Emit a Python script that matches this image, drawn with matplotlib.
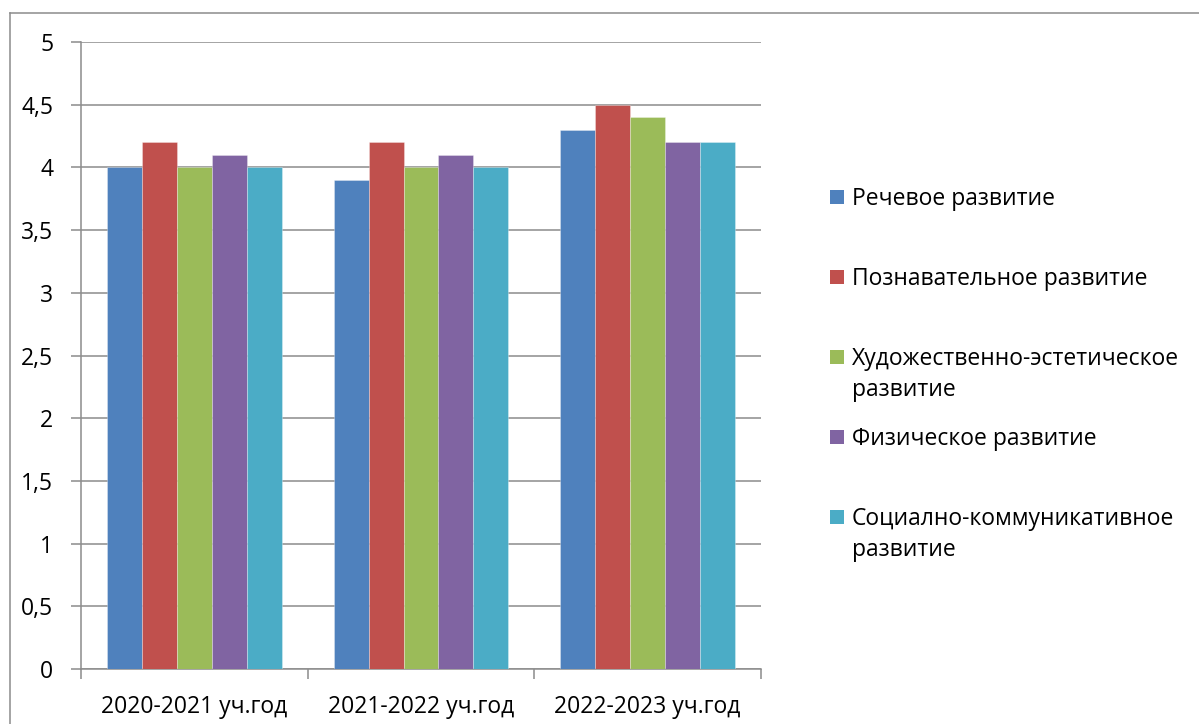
import numpy as np
import matplotlib.pyplot as plt
from matplotlib.patches import Rectangle
from matplotlib.lines import Line2D

plt.rcParams['font.family'] = ['Open Sans', 'DejaVu Sans']

categories = ['2020-2021 уч.год', '2021-2022 уч.год', '2022-2023 уч.год']
series = ['Речевое развитие', 'Познавательное развитие',
          'Художественно-эстетическое\nразвитие', 'Физическое развитие',
          'Социално-коммуникативное\nразвитие']
values = [
    [4.0, 3.9, 4.3],
    [4.2, 4.2, 4.5],
    [4.0, 4.0, 4.4],
    [4.1, 4.1, 4.2],
    [4.0, 4.0, 4.2],
]
colors = ['#4F81BD', '#C0504D', '#9BBB59', '#8064A2', '#4BACC6']
yticks = [0, 0.5, 1, 1.5, 2, 2.5, 3, 3.5, 4, 4.5, 5]
ylabels = ['0', '0,5', '1', '1,5', '2', '2,5', '3', '3,5', '4', '4,5', '5']

W, H = 1199, 724
fig = plt.figure(figsize=(W / 100, H / 100), dpi=100)
ax = fig.add_axes([81 / W, 1 - 669 / H, (761 - 81) / W, (669 - 42) / H])

grey = '#8c8c8c'
n = len(series)
width = 1 / 6.5
x = np.arange(len(categories))
for i, (name, vals, c) in enumerate(zip(series, values, colors)):
    ax.bar(x + (i - (n - 1) / 2) * width, vals, width, color=c,
           edgecolor=(1, 1, 1, 0.35), linewidth=0.6, zorder=3)

ax.set_xlim(-0.5, len(categories) - 0.5)
ax.set_ylim(0, 5)
ax.set_yticks(yticks)
ax.set_yticklabels(ylabels)
ax.set_xticks(x)
ax.set_xticklabels(categories)
ax.set_xticks(np.arange(len(categories) + 1) - 0.5, minor=True)
ax.tick_params(axis='x', which='major', length=0, pad=19, labelsize=16.5)
ax.tick_params(axis='x', which='minor', length=7, width=1.1, color=grey)
ax.tick_params(axis='y', length=7, width=1.1, color=grey, pad=13, labelsize=16.5)
ax.yaxis.grid(True, color=grey, linewidth=1.1, zorder=0)
ax.set_axisbelow(True)
for s in ['top', 'right']:
    ax.spines[s].set_visible(False)
for s in ['left', 'bottom']:
    ax.spines[s].set_color(grey)
    ax.spines[s].set_linewidth(1.1)

# chart frame (left and top edges visible)
fig.add_artist(Line2D([10.5 / W, 10.5 / W], [0, 1 - 12.5 / H], color=grey, lw=1.1))
fig.add_artist(Line2D([10.5 / W, 1], [1 - 12.5 / H, 1 - 12.5 / H], color=grey, lw=1.1))

# legend, drawn by hand to keep Excel spacing
y0 = 197
for i, (name, c) in enumerate(zip(series, colors)):
    yc = y0 + i * 80
    fig.add_artist(Rectangle((830 / W, 1 - (yc + 7) / H), 14 / W, 14 / H,
                             facecolor=c, edgecolor='none'))
    for j, line in enumerate(name.split('\n')):
        fig.text(852 / W, 1 - (yc + 8 + j * 31) / H, line, fontsize=16.5,
                 va='baseline', ha='left')

fig.savefig('out.png', dpi=100)
